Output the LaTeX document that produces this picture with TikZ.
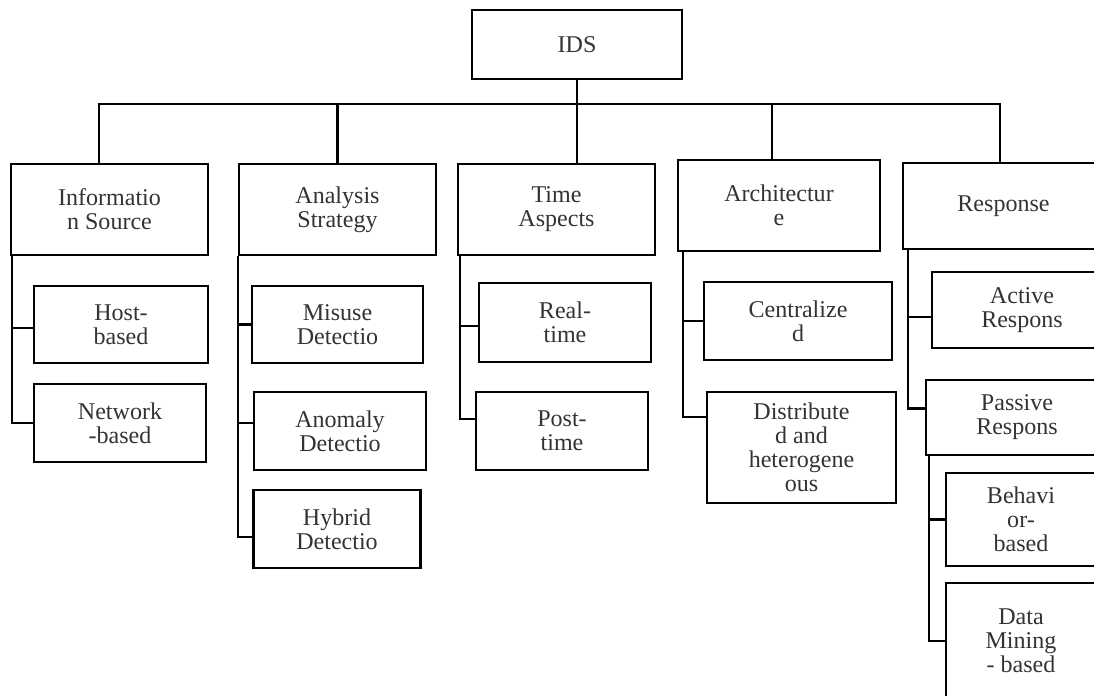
\documentclass[tikz,border=0pt]{standalone}
\usepackage{fontspec}
\setmainfont{Liberation Serif}
\usepackage{tikz}
\usetikzlibrary{positioning}
\tikzset{idsbox/.style={rectangle,draw=black,line width=1pt,align=center,text=black!80,font=\fontsize{10}{10}\selectfont,inner sep=1pt}}
\tikzset{catbox/.style={idsbox,minimum width=2.88cm,minimum height=1.33cm}}
\tikzset{leafbox/.style={idsbox,minimum width=2.52cm,minimum height=1.14cm}}
\tikzset{link/.style={draw=black,line width=1pt}}

\begin{document}
\begin{tikzpicture}[x=0.014625cm,y=-0.014625cm]
\clip (0,0) rectangle (1094,695);

\node[idsbox, minimum width=3.07cm, minimum height=1.01cm] (ids) at (577,44.5) {IDS};
\coordinate (hub) at (577,104);

\node[catbox] (info) at (109.5,209.5) {Informatio\\n Source};
\node[catbox] (analysis) at (337.5,209.5) {Analysis\\Strategy};
\node[catbox] (time) at (556.5,209.5) {Time\\Aspects};
\node[catbox, minimum width=2.95cm] (arch) at (779,205.5) {Architectur\\e};
\node[catbox, minimum width=2.94cm, minimum height=1.26cm] (resp) at (1003.5,206) {Response};

\node[leafbox, minimum width=2.54cm, minimum height=1.13cm] (host) at (121,324.5) {Host-\\based};
\node[leafbox] (network) at (120,423) {Network\\-based};
\node[leafbox, minimum width=2.50cm, minimum height=1.13cm] (misuse) at (337.5,324.5) {Misuse\\Detectio};
\node[leafbox] (anomaly) at (340,431) {Anomaly\\Detectio};
\node[leafbox, minimum width=2.44cm] (hybrid) at (337,529) {Hybrid\\Detectio};
\node[leafbox, minimum height=1.16cm] (realtime) at (565,322.5) {Real-\\time};
\node[leafbox] (posttime) at (562,431) {Post-\\time};
\node[leafbox, minimum width=2.75cm] (central) at (798,321) {Centralize\\d};
\node[leafbox, minimum width=2.76cm, minimum height=1.62cm] (distrib) at (801.5,447.5) {Distribute\\d and\\heterogene\\ous};
\node[leafbox, minimum width=2.63cm, minimum height=1.11cm] (active) at (1022,310) {Active\\Respons};
\node[leafbox, minimum width=2.66cm, minimum height=1.10cm] (passive) at (1017,417.5) {Passive\\Respons};
\node[leafbox, minimum width=2.19cm, minimum height=1.36cm] (behavior) at (1021,519.5) {Behavi\\or-\\based};
\node[leafbox, minimum width=2.19cm, minimum height=1.70cm] (mining) at (1021,641) {Data\\Mining\\- based};

\begin{scope}[link]
 \draw (ids.south) -- (ids.south |- time.north);
 \foreach \c/\dx in {info/-0.154, analysis/0, arch/-0.10, resp/-0.05}
   \draw (hub) -| ([xshift=\dx cm]\c.north);
 \foreach \p/\dx/\c/\dy in {info/0.03/host/-0.05, info/0.03/network/0,
     analysis/0/misuse/0, analysis/0/anomaly/0.12, analysis/0/hybrid/-0.12,
     time/0.045/realtime/-0.05, time/0.045/posttime/0.18,
     arch/0.09/central/0, arch/0.09/distrib/0.45,
     resp/0.09/active/-0.1, resp/0.09/passive/0.13,
     passive/0.06/behavior/0, passive/0.06/mining/0}
   \draw ([xshift=\dx cm]\p.south west) |- ([yshift=\dy cm]\c.west);
\end{scope}
\end{tikzpicture}
\end{document}
